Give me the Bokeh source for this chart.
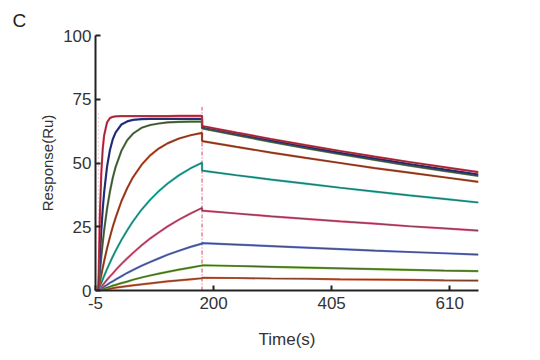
from bokeh.plotting import figure
from bokeh.models import Range1d, FixedTicker, Title
from bokeh.embed import file_html
from bokeh.resources import INLINE

# time points (s)
t_assoc = [0, 2.5, 5, 7.5, 10, 15, 20, 25, 30, 40, 50, 60, 75, 90, 105, 120, 140, 160, 180]
t_dissoc = [180, 240, 300, 360, 420, 480, 540, 600, 660]

# responses (RU), highest concentration first
red_assoc = [0, 28.9, 45.6, 55.3, 60.8, 65.9, 67.6, 68.1, 68.3, 68.4, 68.4, 68.4, 68.4, 68.4, 68.4, 68.4, 68.5, 68.5, 68.5]
red_dissoc = [64.5, 61.9, 59.4, 57.0, 54.7, 52.5, 50.4, 48.4, 46.4]

navy_assoc = [0, 12.9, 23.3, 31.7, 38.5, 48.5, 55.0, 59.3, 62.0, 65.1, 66.3, 66.9, 67.2, 67.3, 67.3, 67.3, 67.3, 67.3, 67.3]
navy_dissoc = [64.2, 61.5, 58.9, 56.4, 54.0, 51.8, 49.6, 47.5, 45.5]

dkgreen_assoc = [0, 6.9, 13.1, 18.6, 23.6, 32.0, 38.7, 44.2, 48.5, 54.8, 58.9, 61.5, 63.8, 64.9, 65.5, 65.9, 66.1, 66.2, 66.2]
dkgreen_dissoc = [63.6, 60.9, 58.3, 55.8, 53.5, 51.2, 49.0, 46.9, 44.9]

brown_assoc = [0, 3.1, 6.0, 8.8, 11.5, 16.5, 20.9, 25.0, 28.6, 35.0, 40.1, 44.4, 49.3, 53.0, 55.7, 57.7, 59.6, 60.9, 61.8]
brown_dissoc = [58.6, 56.3, 54.1, 52.0, 50.0, 48.0, 46.2, 44.4, 42.6]

teal_assoc = [0, 1.5, 2.9, 4.3, 5.7, 8.4, 10.9, 13.3, 15.6, 19.8, 23.6, 27.1, 31.7, 35.6, 39.0, 41.9, 45.2, 47.9, 50.1]
teal_dissoc = [47.0, 45.2, 43.5, 41.9, 40.3, 38.8, 37.3, 35.9, 34.5]

pink_assoc = [0, 0.7, 1.4, 2.1, 2.8, 4.2, 5.5, 6.7, 8.0, 10.4, 12.6, 14.7, 17.7, 20.4, 22.8, 25.1, 27.8, 30.2, 32.4]
pink_dissoc = [31.3, 30.2, 29.1, 28.1, 27.1, 26.2, 25.2, 24.4, 23.5]

blue_assoc = [0, 0.4, 0.8, 1.1, 1.5, 2.2, 3.0, 3.6, 4.3, 5.6, 6.9, 8.0, 9.7, 11.2, 12.6, 14.0, 15.6, 17.1, 18.4]
blue_dissoc = [18.6, 18.0, 17.4, 16.8, 16.2, 15.6, 15.1, 14.6, 14.1]

olive_assoc = [0, 0.2, 0.4, 0.6, 0.8, 1.1, 1.5, 1.9, 2.2, 2.9, 3.5, 4.2, 5.1, 5.9, 6.6, 7.3, 8.2, 9.0, 9.8]
olive_dissoc = [9.9, 9.6, 9.3, 9.0, 8.7, 8.4, 8.1, 7.8, 7.6]

rust_assoc = [0, 0.1, 0.2, 0.3, 0.4, 0.5, 0.7, 0.9, 1.1, 1.4, 1.7, 2.0, 2.4, 2.8, 3.2, 3.6, 4.0, 4.4, 4.8]
rust_dissoc = [5.0, 4.9, 4.7, 4.6, 4.4, 4.3, 4.2, 4.0, 3.9]

series = [
    (red_assoc, red_dissoc, "#e0384f"),
    (navy_assoc, navy_dissoc, "#2a3a90"),
    (dkgreen_assoc, dkgreen_dissoc, "#5a7d4c"),
    (brown_assoc, brown_dissoc, "#c0502c"),
    (teal_assoc, teal_dissoc, "#30b8aa"),
    (pink_assoc, pink_dissoc, "#e05a80"),
    (blue_assoc, blue_dissoc, "#6478cc"),
    (olive_assoc, olive_dissoc, "#6aa632"),
    (rust_assoc, rust_dissoc, "#d0603c"),
]

x_ticks = [-5, 200, 405, 610]
y_ticks = [0, 25, 50, 75, 100]
inject_start = 0
inject_end = 180
marker_top = 72

FONT = "Liberation Sans"

p = figure(width=524, height=358, output_backend="svg", toolbar_location=None,
           x_range=Range1d(-5, 660), y_range=Range1d(0, 100),
           min_border_left=95, min_border_right=46, min_border_top=35, min_border_bottom=68)
p.outline_line_color = None
p.xgrid.visible = False
p.ygrid.visible = False
p.background_fill_color = "white"

# injection markers
p.segment(x0=[inject_end], y0=[0], x1=[inject_end], y1=[marker_top],
          line_color="#e0607a", line_width=1.2, line_dash="4 2 1 2")
p.segment(x0=[inject_start], y0=[0], x1=[inject_start], y1=[marker_top - 2],
          line_color="#e8a0b0", line_width=1, line_dash="1 3")

for a, d, c in series[::-1]:
    xs = t_assoc + t_dissoc
    ys = a + d
    p.line(xs, ys, line_color=c, line_width=2.2)
    p.line(xs, ys, line_color="#111111", line_width=0.8, line_alpha=0.55)

for ax in (p.xaxis[0], p.yaxis[0]):
    ax.axis_line_color = "#222222"
    ax.axis_line_width = 2
    ax.major_tick_line_color = "#222222"
    ax.major_tick_line_width = 2
    ax.major_tick_in = 5
    ax.major_tick_out = 0
    ax.minor_tick_line_color = None
    ax.major_label_text_font = FONT
    ax.major_label_text_font_size = "17px"
    ax.major_label_text_color = "#333333"
    ax.axis_label_text_font = FONT
    ax.axis_label_text_font_style = "normal"
    ax.axis_label_text_color = "#333333"

p.xaxis[0].ticker = FixedTicker(ticks=x_ticks)
p.xaxis[0].major_label_overrides = {-5: "-5"}
p.yaxis[0].ticker = FixedTicker(ticks=y_ticks)
p.xaxis[0].axis_label = "Time(s)"
p.yaxis[0].axis_label = "Response(Ru)"
p.xaxis[0].axis_label_text_font_size = "17px"
p.yaxis[0].axis_label_text_font_size = "15px"
p.xaxis[0].major_label_standoff = 6
p.yaxis[0].major_label_standoff = 4
p.xaxis[0].axis_label_standoff = 18
p.yaxis[0].axis_label_standoff = 4

p.add_layout(Title(text="C", align="left", offset=-83, text_font=FONT,
                   text_font_size="19px", text_color="#222222",
                   text_font_style="normal", standoff=10), "above")

open("out.html", "w").write(file_html(p, INLINE))
